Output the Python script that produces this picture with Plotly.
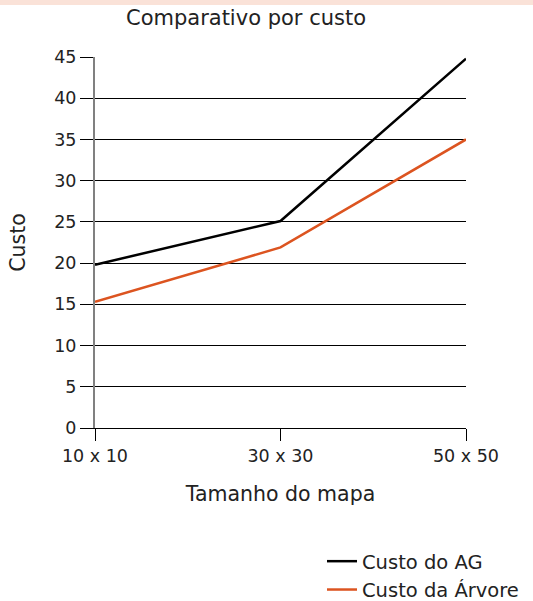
import plotly.graph_objects as go

categories = ["10 x 10", "30 x 30", "50 x 50"]
custo_ag = [19.8, 25.1, 44.8]
custo_arvore = [15.3, 21.9, 35.0]
y_ticks = [0, 5, 10, 15, 20, 25, 30, 35, 40, 45]

FONT = "DejaVu Sans"
TXT = "#222222"
W, H = 533, 601
L, R, T, B = 95, 67, 57, 173
pw, ph = W - L - R, H - T - B

fig = go.Figure()
fig.add_trace(go.Scatter(x=[0, 1, 2], y=custo_ag, mode="lines", name="Custo do AG",
                         line=dict(color="#000000", width=2.5)))
fig.add_trace(go.Scatter(x=[0, 1, 2], y=custo_arvore, mode="lines", name="Custo da Árvore",
                         line=dict(color="#dc5420", width=2.5)))

fig.update_layout(
    width=W, height=H,
    margin=dict(l=L, r=R, t=T, b=B, autoexpand=False),
    paper_bgcolor="white", plot_bgcolor="white",
    font=dict(family=FONT, size=17, color=TXT),
    title=dict(text="Comparativo por custo", x=246 / W, xref="container", xanchor="center",
               y=1 - 18 / H, yref="container", yanchor="middle",
               font=dict(family=FONT, size=21, color=TXT)),
    showlegend=True,
    legend=dict(x=(322 - L) / pw, xanchor="left", y=(T + ph - 609) / ph, yanchor="bottom",
                font=dict(family=FONT, size=19.5, color=TXT), bgcolor="rgba(0,0,0,0)",
                tracegroupgap=0, borderwidth=0),
    xaxis=dict(
        range=[0, 2], tickmode="array", tickvals=[0, 1, 2], ticktext=categories,
        showgrid=False, zeroline=False, showline=True, linecolor="#000000", linewidth=1,
        ticks="outside", ticklen=12, tickcolor="#000000", tickwidth=1,
        title=dict(text="Tamanho do mapa", standoff=21, font=dict(family=FONT, size=20.5, color=TXT)),
        tickfont=dict(family=FONT, size=17.5, color=TXT),
    ),
    yaxis=dict(
        range=[0, 45], tickmode="array", tickvals=y_ticks,
        showgrid=True, gridcolor="#000000", gridwidth=1, zeroline=False,
        showline=True, linecolor="#808080", linewidth=2,
        ticks="outside", ticklen=13, tickcolor="#000000", tickwidth=1,
        title=dict(text="Custo", standoff=23, font=dict(family=FONT, size=20.5, color=TXT)),
        tickfont=dict(family=FONT, size=17.5, color=TXT),
    ),
    shapes=[dict(type="rect", xref="paper", yref="paper",
                 x0=-L / pw, x1=1 + R / pw, y0=1 + (T - 5) / ph, y1=1 + T / ph,
                 fillcolor="#fae2d8", line=dict(width=0), layer="below")],
)

fig.write_html("out.html", config={"displayModeBar": False},
               post_script="document.body.style.margin='0';document.body.style.overflow='hidden';")
